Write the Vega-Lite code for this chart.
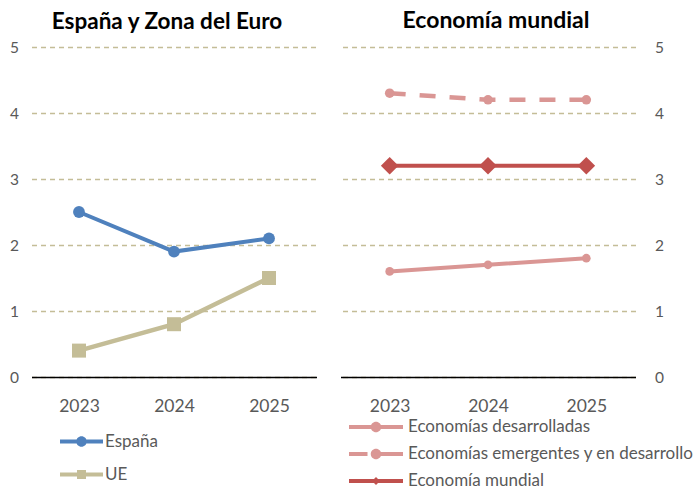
{
  "$schema": "https://vega.github.io/schema/vega-lite/v6.json",
  "padding": {"left": 9.5, "right": 1, "top": 10, "bottom": 1},
  "bounds": "flush",
  "spacing": 24,
  "background": "white",
  "config": {
    "view": {"stroke": null},
    "font": "Lato",
    "axis": {"labelFont": "Lato", "labelColor": "#595959", "ticks": false, "title": null}
  },
  "datasets": {
    "left": [
      {"series": "España", "year": "2023", "value": 2.5},
      {"series": "España", "year": "2024", "value": 1.9},
      {"series": "España", "year": "2025", "value": 2.1},
      {"series": "UE", "year": "2023", "value": 0.4},
      {"series": "UE", "year": "2024", "value": 0.8},
      {"series": "UE", "year": "2025", "value": 1.5}
    ],
    "right": [
      {"series": "Economías desarrolladas", "year": "2023", "value": 1.6},
      {"series": "Economías desarrolladas", "year": "2024", "value": 1.7},
      {"series": "Economías desarrolladas", "year": "2025", "value": 1.8},
      {"series": "Economías emergentes y en desarrollo", "year": "2023", "value": 4.3},
      {"series": "Economías emergentes y en desarrollo", "year": "2024", "value": 4.2},
      {"series": "Economías emergentes y en desarrollo", "year": "2025", "value": 4.2},
      {"series": "Economía mundial", "year": "2023", "value": 3.2},
      {"series": "Economía mundial", "year": "2024", "value": 3.2},
      {"series": "Economía mundial", "year": "2025", "value": 3.2}
    ]
  },
  "resolve": {
    "scale": {"color": "independent", "shape": "independent", "x": "independent", "y": "independent"},
    "legend": {"color": "independent", "shape": "independent"}
  },
  "hconcat": [
    {
      "width": 285,
      "height": 330,
      "title": {"text": "España y Zona del Euro", "font": "Lato", "fontSize": 22.5, "fontWeight": "bold", "color": "#000000", "dx": -7, "offset": 7},
      "data": {"name": "left"},
      "encoding": {
        "x": {"field": "year", "type": "ordinal", "scale": {"type": "point", "padding": 0.5},
              "axis": {"labelAngle": 0, "labelFontSize": 17.5, "labelPadding": 20, "domainColor": "#000000", "domainWidth": 1.5, "grid": false}},
        "y": {"field": "value", "type": "quantitative", "scale": {"domain": [0, 5], "nice": false},
              "axis": {"values": [0, 1, 2, 3, 4, 5], "labelFontSize": 15.5, "labelPadding": 13, "domain": false, "grid": true, "gridColor": "#C4BD97", "gridDash": [5, 4], "gridWidth": 1.5}}
      },
      "layer": [
        {"transform": [{"filter": "datum.series === 'España'"}],
         "mark": {"type": "line", "strokeWidth": 4, "color": "#4F81BD"}},
        {"transform": [{"filter": "datum.series === 'UE'"}],
         "mark": {"type": "line", "strokeWidth": 4.5, "color": "#C4BD97"}},
        {"transform": [{"filter": "datum.series === 'España'"}],
         "mark": {"type": "point", "filled": true, "opacity": 1, "shape": "circle", "size": 140, "color": "#4F81BD"}},
        {"transform": [{"filter": "datum.series === 'UE'"}],
         "mark": {"type": "point", "filled": true, "opacity": 1, "shape": "square", "size": 196, "color": "#C4BD97"}},
        {"mark": {"type": "point", "filled": true, "opacity": 0},
         "encoding": {
           "color": {"field": "series", "type": "nominal",
                     "scale": {"domain": ["España", "UE"], "range": ["#4F81BD", "#C4BD97"]},
                     "legend": {"title": null, "orient": "none", "legendX": 41.5, "legendY": 386, "direction": "vertical",
                                "symbolSize": 100, "symbolOpacity": 1, "symbolStrokeWidth": 0,
                                "labelFont": "Lato", "labelFontSize": 17, "labelColor": "#595959", "labelLimit": 0,
                                "labelOffset": 15, "rowPadding": 15, "padding": 0}},
           "shape": {"field": "series", "type": "nominal",
                     "scale": {"domain": ["España", "UE"], "range": [
                       "M-4.3,-0.4H-0.9V0.4H-4.3Z M0.9,-0.4H4.3V0.4H0.9Z M1.05,0A1.05,1.05 0 1,1 -1.05,0A1.05,1.05 0 1,1 1.05,0Z",
                       "M-4.3,-0.4H4.3V0.4H-4.3Z M-0.9,-0.9H0.9V0.9H-0.9Z"]},
                     "legend": {"title": null, "orient": "none", "legendX": 41.5, "legendY": 386, "direction": "vertical",
                                "symbolSize": 100, "symbolOpacity": 1, "symbolStrokeWidth": 0,
                                "labelFont": "Lato", "labelFontSize": 17, "labelColor": "#595959", "labelLimit": 0,
                                "labelOffset": 15, "rowPadding": 15, "padding": 0}}
         }}
      ]
    },
    {
      "width": 295,
      "height": 330,
      "title": {"text": "Economía mundial", "font": "Lato", "fontSize": 23, "fontWeight": "bold", "color": "#000000", "dx": 8, "offset": 7},
      "data": {"name": "right"},
      "encoding": {
        "x": {"field": "year", "type": "ordinal", "scale": {"type": "point", "padding": 0.5},
              "axis": {"labelAngle": 0, "labelFontSize": 17.5, "labelPadding": 20, "domainColor": "#000000", "domainWidth": 1.5, "grid": false}},
        "y": {"field": "value", "type": "quantitative", "scale": {"domain": [0, 5], "nice": false},
              "axis": {"orient": "right", "values": [0, 1, 2, 3, 4, 5], "labelFontSize": 15.5, "labelPadding": 19, "domain": false, "grid": true, "gridColor": "#C4BD97", "gridDash": [5, 4], "gridWidth": 1.5}}
      },
      "layer": [
        {"transform": [{"filter": "datum.series === 'Economías desarrolladas'"}],
         "mark": {"type": "line", "strokeWidth": 4, "color": "#DA9694"}},
        {"transform": [{"filter": "datum.series === 'Economías emergentes y en desarrollo'"}],
         "mark": {"type": "line", "strokeWidth": 4.5, "color": "#DA9694", "strokeDash": [16, 14]}},
        {"transform": [{"filter": "datum.series === 'Economía mundial'"}],
         "mark": {"type": "line", "strokeWidth": 4, "color": "#C0504D"}},
        {"transform": [{"filter": "datum.series === 'Economías desarrolladas'"}],
         "mark": {"type": "point", "filled": true, "opacity": 1, "shape": "circle", "size": 75, "color": "#DA9694"}},
        {"transform": [{"filter": "datum.series === 'Economías emergentes y en desarrollo'"}],
         "mark": {"type": "point", "filled": true, "opacity": 1, "shape": "circle", "size": 90, "color": "#DA9694"}},
        {"transform": [{"filter": "datum.series === 'Economía mundial'"}],
         "mark": {"type": "point", "filled": true, "opacity": 1, "shape": "diamond", "size": 310, "color": "#C0504D"}},
        {"mark": {"type": "point", "filled": true, "opacity": 0},
         "encoding": {
           "color": {"field": "series", "type": "nominal",
                     "scale": {"domain": ["Economías desarrolladas", "Economías emergentes y en desarrollo", "Economía mundial"], "range": ["#DA9694", "#DA9694", "#C0504D"]},
                     "legend": {"title": null, "orient": "none", "legendX": 27, "legendY": 371.5, "direction": "vertical",
                                "symbolSize": 100, "symbolOpacity": 1, "symbolStrokeWidth": 0,
                                "labelFont": "Lato", "labelFontSize": 17, "labelColor": "#595959", "labelLimit": 0,
                                "labelOffset": 23.5, "rowPadding": 9, "padding": 0}},
           "shape": {"field": "series", "type": "nominal",
                     "scale": {"domain": ["Economías desarrolladas", "Economías emergentes y en desarrollo", "Economía mundial"], "range": [
                       "M-5.4,-0.4H-0.9V0.4H-5.4Z M0.9,-0.4H5.4V0.4H0.9Z M1.05,0A1.05,1.05 0 1,1 -1.05,0A1.05,1.05 0 1,1 1.05,0Z",
                       "M-5.4,-0.4H-1.7V0.4H-5.4Z M0.9,-0.4H5.4V0.4H0.9Z M1.05,0A1.05,1.05 0 1,1 -1.05,0A1.05,1.05 0 1,1 1.05,0Z",
                       "M-5.4,-0.4H5.4V0.4H-5.4Z M0,-0.8L0.8,0L0,0.8L-0.8,0Z"]},
                     "legend": {"title": null, "orient": "none", "legendX": 27, "legendY": 371.5, "direction": "vertical",
                                "symbolSize": 100, "symbolOpacity": 1, "symbolStrokeWidth": 0,
                                "labelFont": "Lato", "labelFontSize": 17, "labelColor": "#595959", "labelLimit": 0,
                                "labelOffset": 23.5, "rowPadding": 9, "padding": 0}}
         }}
      ]
    }
  ]
}
